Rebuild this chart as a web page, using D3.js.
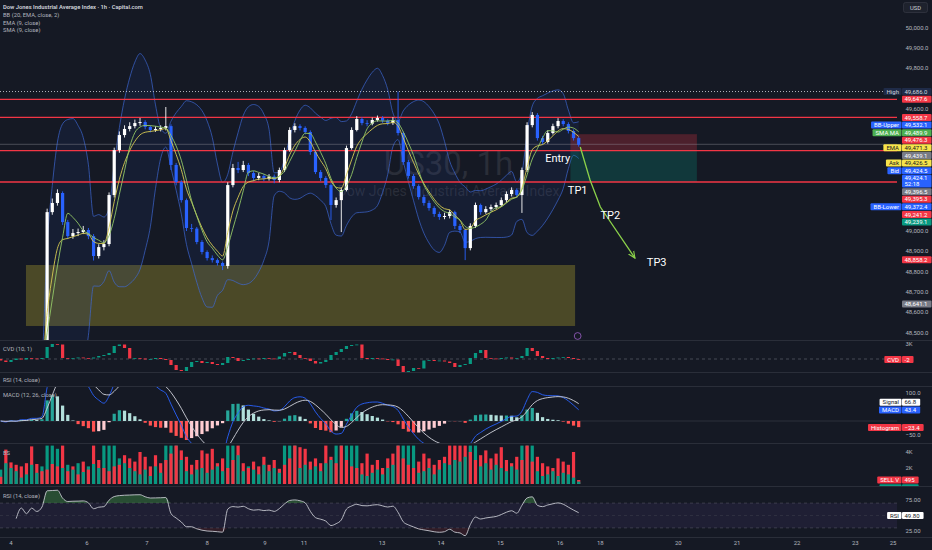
<!DOCTYPE html>
<html>
<head>
<meta charset="utf-8">
<title>US30 1h</title>
<script src="https://cdn.jsdelivr.net/npm/d3@7"></script>
<style>
  body { margin: 0; background: #151924; overflow: hidden; }
  svg text { font-family: Roboto, "Noto Sans", sans-serif; }
</style>
</head>
<body>
<div id="chart"></div>
<script>
// price bars, 2 hours each (the first 9 sit below the visible price range)
var firstOpen = 48295;
var closes = [48310, 48285, 48330, 48300, 48345, 48320, 48360, 48340, 48385,
  49093, 49138, 49187, 49044, 48975, 48990, 48995, 49005, 48975, 48877,
  48921, 48936, 49177, 49398, 49472, 49502, 49516, 49531, 49536, 49512,
  49497, 49502, 49507, 49516, 49325, 49241, 49152, 49015, 49012, 48946,
  48897, 48867, 48857, 48843, 48828, 49226, 49310, 49300, 49325, 49285,
  49261, 49271, 49258, 49268, 49251, 49300, 49398, 49497, 49516, 49507,
  49487, 49389, 49290, 49261, 49226, 49128, 49152, 49202, 49408, 49497,
  49551, 49531, 49528, 49546, 49556, 49543, 49531, 49546, 49482, 49339,
  49271, 49221, 49167, 49138, 49113, 49084, 49069, 49074, 49093, 49025,
  49005, 48916, 49025, 49128, 49093, 49108, 49118, 49128, 49152, 49182,
  49202, 49177, 49300, 49521, 49571, 49457, 49438, 49482, 49516, 49541,
  49526, 49492, 49457, 49424];
var highs = [48330, 48320, 48345, 48340, 48360, 48350, 48372, 48365, 48395,
  49110, 49160, 49205, 49195, 49055, 49010, 49012, 49025, 49015, 48985,
  48935, 48955, 49190, 49410, 49490, 49520, 49535, 49548, 49556, 49545,
  49520, 49515, 49520, 49610, 49525, 49335, 49250, 49160, 49035, 49020,
  48955, 48905, 48880, 48865, 48850, 49240, 49330, 49340, 49345, 49335,
  49295, 49285, 49280, 49280, 49278, 49312, 49410, 49510, 49530, 49525,
  49515, 49495, 49398, 49300, 49270, 49235, 49165, 49215, 49420, 49510,
  49565, 49560, 49545, 49558, 49568, 49565, 49550, 49560, 49686, 49490,
  49350, 49280, 49230, 49178, 49150, 49122, 49095, 49090, 49105, 49100,
  49035, 49012, 49038, 49140, 49135, 49122, 49130, 49140, 49165, 49195,
  49215, 49210, 49312, 49535, 49585, 49580, 49468, 49495, 49528, 49555,
  49550, 49535, 49500, 49465];
var lows = [48270, 48270, 48280, 48290, 48295, 48310, 48315, 48330, 48335,
  48370, 49080, 49125, 49030, 48960, 48962, 48975, 48985, 48960, 48855,
  48865, 48905, 48925, 49165, 49385, 49460, 49490, 49505, 49518, 49500,
  49485, 49488, 49490, 49495, 49300, 49225, 49140, 49000, 48995, 48935,
  48885, 48855, 48845, 48830, 48808, 48815, 49215, 49285, 49290, 49270,
  49245, 49250, 49245, 49248, 49235, 49240, 49290, 49390, 49485, 49495,
  49475, 49375, 49280, 49245, 49212, 49054, 49115, 48995, 49195, 49400,
  49490, 49520, 49515, 49520, 49538, 49532, 49520, 49522, 49470, 49325,
  49258, 49208, 49155, 49125, 49100, 49070, 49055, 49058, 49062, 49010,
  48990, 48857, 48905, 49015, 49080, 49085, 49098, 49108, 49118, 49140,
  49170, 49165, 49089, 49290, 49510, 49445, 49425, 49430, 49475, 49505,
  49515, 49480, 49445, 49415];
// buy / sell volume per bar, in K
var buyVol = [1.8, 2.6, 2.0, 1.6, 0.8, 1.2, 2.4, 1.4, 2.2,
  4.8, 4.8, 4.4, 2.0, 2.4, 1.8, 2.6, 1.5, 2.2, 2.5,
  2.0, 4.8, 4.8, 4.8, 3.2, 2.6, 2.0, 1.6, 1.2, 1.8,
  1.0, 2.2, 1.4, 4.8, 4.8, 4.8, 3.0, 1.6, 1.2, 1.8,
  2.0, 1.4, 1.8, 2.2, 1.6, 4.8, 4.8, 3.6, 1.6, 2.2,
  1.8, 1.2, 2.4, 1.6, 2.0, 1.4, 4.8, 4.8, 4.8, 2.0,
  2.4, 1.8, 2.2, 1.6, 2.6, 3.0, 4.8, 4.8, 4.8, 4.8,
  4.8, 1.2, 1.0, 1.4, 1.8, 1.2, 2.0, 2.4, 4.8, 4.8,
  4.8, 4.8, 1.4, 1.6, 2.0, 1.2, 1.8, 2.6, 2.4, 3.0,
  2.8, 3.4, 4.8, 4.8, 2.2, 2.6, 1.8, 2.4, 2.0, 1.6,
  2.2, 1.8, 4.8, 4.8, 4.8, 1.6, 1.0, 1.2, 1.6, 1.0,
  1.4, 1.2, 0.8, 0.3];
var sellVol = [0.9, 4.3, 2.7, 2.4, 2.2, 2.6, 4.7, 2.5, 1.6,
  1.8, 2.5, 2.2, 4.8, 1.6, 2.2, 1.2, 2.8, 1.8, 4.8,
  3.0, 2.0, 1.6, 2.2, 2.4, 3.6, 3.2, 2.8, 4.0, 3.4,
  2.2, 3.6, 2.6, 3.0, 3.8, 4.8, 4.2, 3.4, 2.4, 3.0,
  4.2, 3.8, 4.4, 2.6, 3.2, 2.0, 3.0, 4.8, 2.6, 2.0,
  2.8, 2.2, 3.4, 2.4, 3.0, 1.9, 2.4, 3.2, 4.8, 4.6,
  4.4, 2.8, 3.2, 2.6, 4.8, 3.4, 2.6, 4.8, 3.0, 2.2,
  2.0, 2.6, 3.8, 2.4, 3.0, 2.0, 3.2, 3.8, 4.8, 3.2,
  2.4, 2.0, 2.8, 3.8, 3.2, 2.4, 3.0, 3.4, 4.8, 4.8,
  4.8, 4.8, 4.0, 3.0, 3.6, 4.2, 3.2, 3.8, 4.6, 3.0,
  2.6, 3.4, 3.0, 4.8, 2.8, 3.4, 2.6, 2.2, 2.0, 3.2,
  2.8, 2.4, 4.0, 0.5];
// cumulative volume delta close per bar, in K
var cvdClose = [-0.3, -0.6, -0.2, 0.1, -0.1, 0.2, 0.1, 0.0, 0.2,
  2.4, 3.0, 2.9, 0.2, 0.1, 0.2, 0.3, 0.2, 0.1, 0.3,
  0.6, 0.8, 1.2, 2.6, 2.9, 2.2, 0.1, 0.2, 0.1, -0.1,
  0.0, 0.2, 0.0, -0.2, -1.2, -2.2, -2.4, -1.6, -0.6, -0.4,
  -0.8, -0.6, -1.0, -1.2, -0.8, 0.4, 0.2, -0.4, -0.2, 0.0,
  0.1, 0.0, 0.2, 0.1, 0.0, 0.5, 1.2, 1.4, 0.8, 0.2,
  0.1, -0.4, -0.9, -0.6, -0.2, 0.8, 1.4, 2.0, 2.6, 2.8,
  2.9, 0.2, 0.0, 0.2, 0.1, 0.0, -0.2, -0.1, -1.4, -2.6,
  -2.4, -1.8, -1.9, -0.3, -0.2, -0.4, -0.3, -0.5, -0.8, -1.6,
  -1.2, -1.0, 0.2, 1.2, 1.8, 0.2, 0.1, 0.0, 0.2, 0.3,
  0.1, 0.2, 0.6, 2.2, 1.6, 0.6, 0.2, 0.0, 0.2, 0.3,
  0.4, 0.2, 0.0, -0.1];

// time axis: day labels at bar positions
var dayTicks = [2, 16.73, 28.36, 40.0, 51.2, 58.8, 73.9, 85.3, 96.8, 108.4, 116.2, 131.3, 142.7, 154.3, 165.6, 172.9];
var dayLabels = ["4", "6", "7", "8", "9", "11", "13", "14", "15", "16", "18", "20", "21", "22", "23", "25"];

// drawings on the price pane
var levelLines = [49647.6, 49558.7, 49395.3, 49241.2];
var sessionHigh = 49686.0;
var askPrice = 49426.5;
var zoneBars = [4.9, 111.3];
var zonePrices = [48833, 48533];
var positionBars = [110.4, 134.9];
var positionPrices = [49476.3, 49395.3, 49241.2]; // stop, entry, target
var arrowBars = [112.3, 114.2, 116.2, 122.9];
var arrowPrices = [49413, 49251, 49118, 48867];
var noteLabels = ["Entry", "TP1", "TP2", "TP3"];
var noteBars = [105.5, 109.9, 116.2, 125.2];
var notePrices = [49359, 49202, 49079, 48848];

// price scale tags
var tagLabels = ["High", "", "", "BB-Upper", "SMA MA", "", "EMA", "", "Ask", "Bid", "", "", "", "BB-Lower", "", "", "", ""];
var tagPrices = [49686.0, 49647.6, 49558.7, 49532.1, 49489.9, 49476.3, 49471.3, 49439.1, 49426.5, 49424.5, 49424.1, 49396.5, 49395.3, 49372.4, 49241.2, 49239.1, 48858.2, 48641.1];
var tagKinds = ["high", "red", "red", "blue", "green", "red", "yellow", "gray", "yellow", "blue", "last", "gray", "red", "blue", "red", "teal", "red", "gray"];
var countdown = "52:18";
var cvdTag = ["CVD", "-2"];
var macdTagLabels = ["Signal", "MACD", "Histogram"];
var macdTagValues = [66.8, 43.4, -23.4];
var volTagLabels = ["SELL V", "BUY V"];
var volTagValues = [495, 302];
var rsiLast = 49.80;

// indicator lengths in 2h bars
var bbLen = 10, maLen = 5, macdFast = 6, macdSlow = 13, macdSig = 5, rsiLen = 10;

var tagStyle = {
  high: ["#1f2b48", "#d1d4dc"],
  red: ["#f23645", "#ffffff"],
  blue: ["#2962ff", "#ffffff"],
  green: ["#4caf50", "#ffffff"],
  yellow: ["#f7e34b", "#131722"],
  gray: ["#787b86", "#ffffff"],
  teal: ["#089981", "#ffffff"],
  last: ["#2962ff", "#ffffff"],
  white: ["#ffffff", "#131722"]
};

var W = 932, H = 550, plotW = 897;
var pane = {main: [0, 340], cvd: [341, 372], rsi0: [373, 386], macd: [387, 443], vol: [444, 486], rsi: [487, 537]};

var bars = closes.map(function(c, i) {
  return {i: i, o: i === 0 ? firstOpen : closes[i - 1], h: highs[i], l: lows[i], c: c,
    buy: buyVol[i], sell: sellVol[i], cvd: cvdClose[i], cvdOpen: i === 0 ? 0 : cvdClose[i - 1]};
});

// indicators
function emaOf(v, len) {
  var k = 2 / (len + 1), out = [];
  v.forEach(function(a, i) { out.push(i === 0 ? a : a * k + out[i - 1] * (1 - k)); });
  return out;
}
function smaOf(v, len) {
  return v.map(function(a, i) { return d3.mean(v.slice(Math.max(0, i - len + 1), i + 1)); });
}
function devOf(v, len) {
  return v.map(function(a, i) {
    var w = v.slice(Math.max(0, i - len + 1), i + 1), m = d3.mean(w);
    return Math.sqrt(d3.mean(w, function(b) { return (b - m) * (b - m); }));
  });
}
function rsiOf(v, len) {
  var out = [], up = 0, dn = 0;
  for (var i = 1; i < v.length; i++) {
    var ch = v[i] - v[i - 1], g = Math.max(ch, 0), l = Math.max(-ch, 0);
    if (i <= len) { up += g / len; dn += l / len; }
    else { up = (up * (len - 1) + g) / len; dn = (dn * (len - 1) + l) / len; }
    if (i >= 3) out.push({i: i, v: dn === 0 ? 100 : 100 - 100 / (1 + up / dn)});
  }
  return out;
}
var basis = emaOf(closes, bbLen), dev = devOf(closes, bbLen);
var bb = bars.map(function(d, i) { return {i: i, up: basis[i] + 2 * dev[i], lo: basis[i] - 2 * dev[i]}; });
var emaLine = emaOf(closes, maLen), smaLine = smaOf(closes, maLen);
var fast = emaOf(closes, macdFast), slow = emaOf(closes, macdSlow);
var macd = closes.map(function(c, i) { return fast[i] - slow[i]; });
var signal = emaOf(macd, macdSig);
var hist = macd.map(function(m, i) { return m - signal[i]; });
var rsi = rsiOf(closes, rsiLen);

// scales
var x = d3.scaleLinear().domain([dayTicks[0], dayTicks[dayTicks.length - 1]]).range([11, 893]);
var y = d3.scaleLinear().domain([48500, 50000]).range([332.7, 27.7]);
var yCvd = d3.scaleLinear().domain([0, 3]).range([359, 344]);
var yMacd = d3.scaleLinear().domain([0, 100]).range([421, 393]);
var yVol = d3.scaleLinear().domain([0, 4]).range([484, 452]);
var yRsi = d3.scaleLinear().domain([25, 75]).range([531, 500]);
var bw = (x(1) - x(0)) * 0.62;

var svg = d3.select("#chart").append("svg").attr("width", W).attr("height", H);
svg.append("rect").attr("width", W).attr("height", H).attr("fill", "#151924");
var defs = svg.append("defs");
function clip(id, p, w) {
  defs.append("clipPath").attr("id", id).append("rect")
    .attr("x", 0).attr("y", p[0]).attr("width", w).attr("height", p[1] - p[0]);
  return "url(#" + id + ")";
}

// ---- price pane ----
var main = svg.append("g").attr("clip-path", clip("clipMain", pane.main, plotW));

main.append("text").attr("x", plotW / 2).attr("y", 175).attr("text-anchor", "middle")
  .attr("fill", "#787b86").attr("fill-opacity", 0.22).style("font-size", "33px").text("US30, 1h");
main.append("text").attr("x", plotW / 2).attr("y", 196).attr("text-anchor", "middle")
  .attr("fill", "#787b86").attr("fill-opacity", 0.22).style("font-size", "14px").text("Dow Jones Industrial Average Index");

main.append("rect")
  .attr("x", x(zoneBars[0])).attr("width", x(zoneBars[1]) - x(zoneBars[0]))
  .attr("y", y(zonePrices[0])).attr("height", y(zonePrices[1]) - y(zonePrices[0]))
  .attr("fill", "#c9b92e").attr("fill-opacity", 0.3);

// bollinger bands
main.append("path").datum(bb)
  .attr("fill", "#2962ff").attr("fill-opacity", 0.07)
  .attr("d", d3.area().curve(d3.curveMonotoneX)
    .x(function(d) { return x(d.i); }).y0(function(d) { return y(d.lo); }).y1(function(d) { return y(d.up); }));
["up", "lo"].forEach(function(k) {
  main.append("path").datum(bb)
    .attr("fill", "none").attr("stroke", "#3f6ad8").attr("stroke-opacity", 0.75).attr("stroke-width", 0.9)
    .attr("d", d3.line().curve(d3.curveMonotoneX).x(function(d) { return x(d.i); }).y(function(d) { return y(d[k]); }));
});

// short position box
main.append("rect").attr("x", x(positionBars[0])).attr("width", x(positionBars[1]) - x(positionBars[0]))
  .attr("y", y(positionPrices[0])).attr("height", y(positionPrices[1]) - y(positionPrices[0]))
  .attr("fill", "#f23645").attr("fill-opacity", 0.25);
main.append("rect").attr("x", x(positionBars[0])).attr("width", x(positionBars[1]) - x(positionBars[0]))
  .attr("y", y(positionPrices[1])).attr("height", y(positionPrices[2]) - y(positionPrices[1]))
  .attr("fill", "#089981").attr("fill-opacity", 0.25);

// horizontal levels
main.append("line").attr("x1", 0).attr("x2", plotW).attr("y1", y(sessionHigh)).attr("y2", y(sessionHigh))
  .attr("stroke", "#b2b5be").attr("stroke-dasharray", "1,2").attr("stroke-width", 1);
main.append("line").attr("x1", 0).attr("x2", plotW).attr("y1", y(askPrice)).attr("y2", y(askPrice))
  .attr("stroke", "#9598a1").attr("stroke-opacity", 0.5).attr("stroke-width", 0.8);
main.selectAll(".lvl").data(levelLines).enter().append("line")
  .attr("x1", 0).attr("x2", plotW).attr("y1", function(d) { return y(d); }).attr("y2", function(d) { return y(d); })
  .attr("stroke", "#f23645").attr("stroke-width", 1.3);

// candles
var candle = main.append("g").selectAll("g").data(bars).enter().append("g");
candle.append("line")
  .attr("x1", function(d) { return x(d.i); }).attr("x2", function(d) { return x(d.i); })
  .attr("y1", function(d) { return y(d.h); }).attr("y2", function(d) { return y(d.l); })
  .attr("stroke", function(d) { return d.c >= d.o ? "#ffffff" : "#2962ff"; }).attr("stroke-width", 0.9);
candle.append("rect")
  .attr("x", function(d) { return x(d.i) - bw / 2; }).attr("width", bw)
  .attr("y", function(d) { return y(Math.max(d.o, d.c)); })
  .attr("height", function(d) { return Math.max(0.8, Math.abs(y(d.o) - y(d.c))); })
  .attr("fill", function(d) { return d.c >= d.o ? "#ffffff" : "#2962ff"; });

// moving averages
[[emaLine, "#d8cc52"], [smaLine, "#93c766"]].forEach(function(s) {
  main.append("path").datum(s[0])
    .attr("fill", "none").attr("stroke", s[1]).attr("stroke-width", 0.9)
    .attr("d", d3.line().curve(d3.curveMonotoneX).x(function(d, i) { return x(i); }).y(function(d) { return y(d); }));
});

// projected path
defs.append("marker").attr("id", "arrowHead").attr("viewBox", "0 0 10 10").attr("refX", 9).attr("refY", 5)
  .attr("markerWidth", 6).attr("markerHeight", 6).attr("orient", "auto")
  .append("path").attr("d", "M0,1 L9,5 L0,9").attr("fill", "none").attr("stroke", "#8bd14a").attr("stroke-width", 1.4);
main.append("path").datum(arrowBars.map(function(b, i) { return [x(b), y(arrowPrices[i])]; }))
  .attr("fill", "none").attr("stroke", "#8bd14a").attr("stroke-width", 1.3).attr("marker-end", "url(#arrowHead)")
  .attr("d", d3.line());

main.selectAll(".note").data(noteLabels).enter().append("text")
  .attr("x", function(d, i) { return x(noteBars[i]); }).attr("y", function(d, i) { return y(notePrices[i]); })
  .attr("dy", "0.35em").attr("fill", "#ffffff").style("font-size", "11px").text(function(d) { return d; });

// alert icon
main.append("circle").attr("cx", x(111.8)).attr("cy", 336).attr("r", 3.4)
  .attr("fill", "none").attr("stroke", "#9c5fc8").attr("stroke-width", 0.8);

// ---- CVD pane ----
var cvdG = svg.append("g").attr("clip-path", clip("clipCvd", pane.cvd, plotW));
cvdG.append("line").attr("x1", 0).attr("x2", plotW).attr("y1", yCvd(0)).attr("y2", yCvd(0))
  .attr("stroke", "#5d606b").attr("stroke-dasharray", "3,3").attr("stroke-width", 0.7);
cvdG.selectAll("rect").data(bars).enter().append("rect")
  .attr("x", function(d) { return x(d.i) - bw / 2; }).attr("width", bw)
  .attr("y", function(d) { return yCvd(Math.max(d.cvd, d.cvdOpen)); })
  .attr("height", function(d) { return Math.max(0.8, Math.abs(yCvd(d.cvd) - yCvd(d.cvdOpen))); })
  .attr("fill", function(d) { return d.cvd >= d.cvdOpen ? "#089981" : "#f23645"; });

// ---- MACD pane ----
var macdG = svg.append("g").attr("clip-path", clip("clipMacd", pane.macd, plotW));
macdG.append("line").attr("x1", 0).attr("x2", plotW).attr("y1", yMacd(0)).attr("y2", yMacd(0))
  .attr("stroke", "#363a45").attr("stroke-width", 0.7);
macdG.selectAll("rect").data(hist).enter().append("rect")
  .attr("x", function(d, i) { return x(i) - bw / 2; }).attr("width", bw)
  .attr("y", function(d) { return yMacd(Math.max(0, d)); })
  .attr("height", function(d) { return Math.abs(yMacd(d) - yMacd(0)); })
  .attr("fill", function(d, i) {
    var p = i > 0 ? hist[i - 1] : 0;
    if (d >= 0) return d > p ? "#26a69a" : "#b2dfdb";
    return d < p ? "#ff5252" : "#ffcdd2";
  });
[[macd, "#2962ff"], [signal, "#d1d4dc"]].forEach(function(s) {
  macdG.append("path").datum(s[0])
    .attr("fill", "none").attr("stroke", s[1]).attr("stroke-width", 0.9)
    .attr("d", d3.line().curve(d3.curveMonotoneX).x(function(d, i) { return x(i); }).y(function(d) { return yMacd(d); }));
});

// ---- buy / sell volume pane ----
var volG = svg.append("g").attr("clip-path", clip("clipVol", pane.vol, plotW));
var vb = volG.selectAll("g").data(bars).enter().append("g");
vb.append("rect")
  .attr("x", function(d) { return x(d.i) - bw / 2; }).attr("width", bw)
  .attr("y", function(d) { return yVol(Math.max(d.buy, d.sell)); })
  .attr("height", function(d) { return yVol(0) - yVol(Math.max(d.buy, d.sell)); })
  .attr("fill", function(d) { return d.buy >= d.sell ? "#089981" : "#f23645"; });
vb.append("rect")
  .attr("x", function(d) { return x(d.i) - bw / 2; }).attr("width", bw)
  .attr("y", function(d) { return yVol(Math.min(d.buy, d.sell)); })
  .attr("height", function(d) { return yVol(0) - yVol(Math.min(d.buy, d.sell)); })
  .attr("fill", function(d) { return d.buy >= d.sell ? "#f23645" : "#089981"; });

// ---- RSI pane ----
var rsiG = svg.append("g").attr("clip-path", clip("clipRsi", pane.rsi, plotW));
rsiG.append("rect").attr("x", 0).attr("width", plotW).attr("y", yRsi(70)).attr("height", yRsi(30) - yRsi(70))
  .attr("fill", "#7e57c2").attr("fill-opacity", 0.1);
[70, 50, 30].forEach(function(v) {
  rsiG.append("line").attr("x1", 0).attr("x2", plotW).attr("y1", yRsi(v)).attr("y2", yRsi(v))
    .attr("stroke", v === 50 ? "#434651" : "#787b86").attr("stroke-opacity", v === 50 ? 0.6 : 0.5)
    .attr("stroke-dasharray", "3,3").attr("stroke-width", 0.7);
});
rsiG.append("path").datum(rsi).attr("fill", "#4caf50").attr("fill-opacity", 0.35)
  .attr("d", d3.area().curve(d3.curveMonotoneX).x(function(d) { return x(d.i); })
    .y0(yRsi(70)).y1(function(d) { return yRsi(Math.max(70, d.v)); }));
rsiG.append("path").datum(rsi).attr("fill", "#f23645").attr("fill-opacity", 0.12)
  .attr("d", d3.area().curve(d3.curveMonotoneX).x(function(d) { return x(d.i); })
    .y0(yRsi(30)).y1(function(d) { return yRsi(Math.min(30, d.v)); }));
rsiG.append("path").datum(rsi).attr("fill", "none").attr("stroke", "#c5c7cf").attr("stroke-width", 0.9)
  .attr("d", d3.line().curve(d3.curveMonotoneX).x(function(d) { return x(d.i); }).y(function(d) { return yRsi(d.v); }));

// pane separators
[340.5, 372.5, 386.5, 443.5, 486.5, 537.5].forEach(function(v) {
  svg.append("line").attr("x1", 0).attr("x2", W).attr("y1", v).attr("y2", v).attr("stroke", "#2a2e39").attr("stroke-width", 1);
});

// ---- titles ----
var titles = svg.append("g").attr("fill", "#b2b5be").style("font-size", "5.8px");
titles.append("text").attr("x", 3).attr("y", 9).attr("fill", "#d1d4dc").style("font-weight", 600)
  .text("Dow Jones Industrial Average Index · 1h · Capital.com");
[["BB (20, EMA, close, 2)", 17], ["EMA (9, close)", 24.5], ["SMA (9, close)", 32],
 ["CVD (10, 1)", 351], ["RSI (14, close)", 382], ["MACD (12, 26, close)", 397], ["BS", 455], ["RSI (14, close)", 498]]
  .forEach(function(t) { titles.append("text").attr("x", 3).attr("y", t[1]).text(t[0]); });

// value tags on the scales, pushed down so they do not overlap; rows they cover are kept in taken
var taken = [];
function drawTags(g, items, ys, lim) {
  var prev = -1e9;
  items.sort(function(a, b) { return ys(a.value) - ys(b.value); });
  items.forEach(function(d) {
    var h = d.kind === "last" ? 13.4 : 7.6;
    var top = Math.max(ys(d.value) - 3.8, prev);
    prev = top + h;
    taken.push([Math.max(top, lim[0]), Math.min(top + h, lim[1])]);
    var st = tagStyle[d.kind], row = g.append("g");
    var box = row.append("rect").attr("x", 902).attr("y", top + 0.3).attr("height", h - 0.6).attr("rx", 1).attr("fill", st[0]);
    var val = row.append("text").attr("x", 904.5).attr("y", top + 3.8).attr("dy", "0.35em")
      .attr("fill", st[1]).style("font-size", "6px").text(d.text);
    box.attr("width", val.node().getComputedTextLength() + 6.5);
    if (d.sub) {
      row.append("text").attr("x", 904.5).attr("y", top + 9.6).attr("dy", "0.35em")
        .attr("fill", st[1]).style("font-size", "6px").text(d.sub);
    }
    if (d.label) {
      var lab = row.append("text").attr("x", 899).attr("y", top + 3.8).attr("dy", "0.35em").attr("text-anchor", "end")
        .attr("fill", st[1]).style("font-size", "6px").text(d.label);
      var lw = lab.node().getComputedTextLength();
      row.insert("rect", "text").attr("x", 899 - lw - 3).attr("y", top + 0.3).attr("width", lw + 5.5)
        .attr("height", h - 0.6).attr("rx", 1).attr("fill", st[0]);
    }
  });
}
var tagsG = svg.append("g");
drawTags(tagsG.append("g"), tagPrices.map(function(p, i) {
  return {value: p, text: d3.format(",.1f")(p), label: tagLabels[i], kind: tagKinds[i], sub: tagKinds[i] === "last" ? countdown : null};
}), y, pane.main);
drawTags(tagsG.append("g").attr("clip-path", clip("clipCvdTag", pane.cvd, W)),
  [{value: cvdClose[cvdClose.length - 1], text: cvdTag[1], label: cvdTag[0], kind: "red"}], yCvd, pane.cvd);
drawTags(tagsG.append("g").attr("clip-path", clip("clipMacdTag", pane.macd, W)), macdTagValues.map(function(v, i) {
  return {value: v, text: d3.format(".1f")(v), label: macdTagLabels[i], kind: ["white", "blue", "red"][i]};
}), yMacd, pane.macd);
drawTags(tagsG.append("g").attr("clip-path", clip("clipVolTag", pane.vol, W)), volTagValues.map(function(v, i) {
  return {value: v / 1000, text: String(v), label: volTagLabels[i], kind: ["red", "teal"][i]};
}), yVol, pane.vol);
drawTags(tagsG.append("g").attr("clip-path", clip("clipRsiTag", pane.rsi, W)),
  [{value: rsiLast, text: d3.format(".2f")(rsiLast), label: "RSI", kind: "white"}], yRsi, pane.rsi);

// ---- axes (tick labels that sit under a tag are left out) ----
function free(v) {
  return !taken.some(function(t) { return v + 3 > t[0] && v - 3 < t[1]; });
}
var axis = svg.insert("g", function() { return tagsG.node(); }).attr("fill", "#b2b5be").style("font-size", "6px");
axis.selectAll(".pt").data(d3.range(48500, 50001, 100).filter(function(v) { return free(y(v)); })).enter().append("text")
  .attr("x", 905.5).attr("y", function(d) { return y(d); }).attr("dy", "0.35em").text(d3.format(",.1f"));
[[yMacd, [100, 50, 0, -50], d3.format(".1f"), clip("clipMacdAx", pane.macd, W)],
 [yVol, [2, 4], function(v) { return v + "K"; }, clip("clipVolAx", pane.vol, W)],
 [yRsi, [75, 25], d3.format(".2f"), clip("clipRsiAx", pane.rsi, W)],
 [yCvd, [3], function(v) { return v + "K"; }, clip("clipCvdAx", pane.cvd, W)]].forEach(function(a) {
  var g = axis.append("g").attr("clip-path", a[3]);
  a[1].filter(function(v) { return free(a[0](v)); }).forEach(function(v) {
    g.append("text").attr("x", 905.5).attr("y", a[0](v)).attr("dy", "0.35em").text(a[2](v));
  });
});
axis.selectAll(".dt").data(dayTicks).enter().append("text")
  .attr("x", function(d) { return x(d); }).attr("y", 545).attr("text-anchor", "middle")
  .text(function(d, i) { return dayLabels[i]; });

svg.append("rect").attr("x", 903.5).attr("y", 2.5).attr("width", 24).attr("height", 10).attr("rx", 2)
  .attr("fill", "#1e222d").attr("stroke", "#363a45").attr("stroke-width", 0.7);
svg.append("text").attr("x", 915.5).attr("y", 7.5).attr("dy", "0.35em").attr("text-anchor", "middle")
  .attr("fill", "#d1d4dc").style("font-size", "5.8px").text("USD");
</script>
</body>
</html>
